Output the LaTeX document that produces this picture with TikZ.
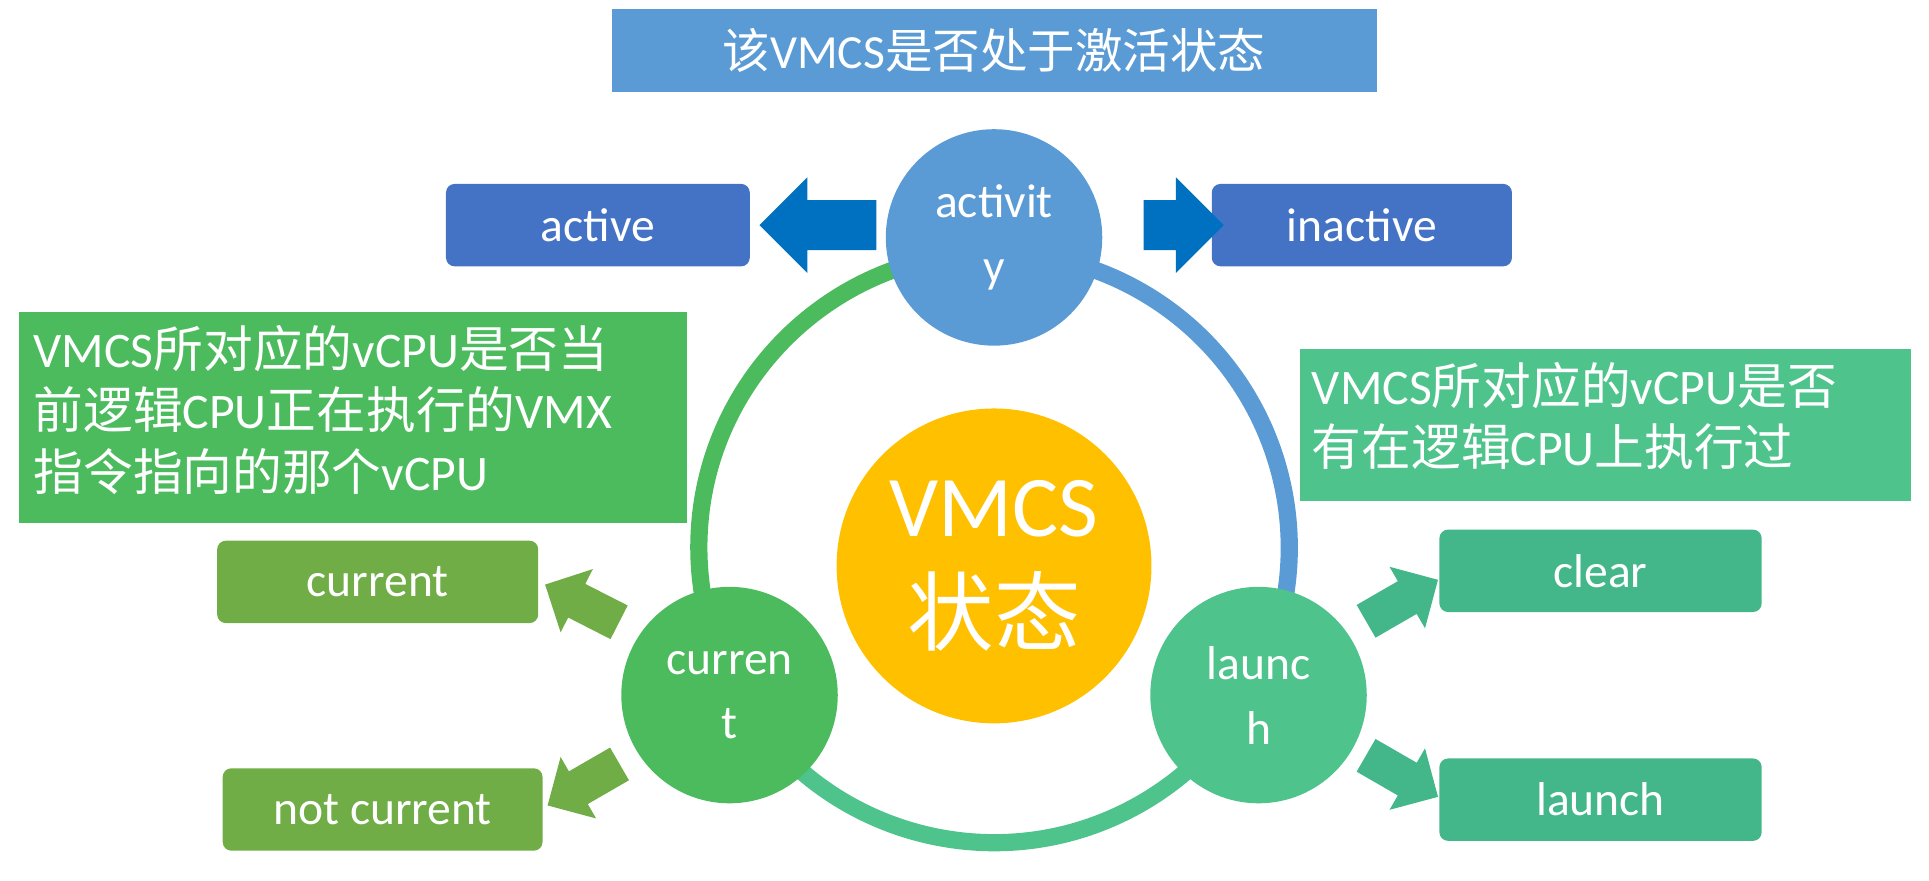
\documentclass[tikz,border=0pt]{standalone}
\usepackage{fontspec}
\setmainfont{Carlito}
\newfontfamily\cjk{Noto Sans CJK SC}
\newcommand{\zh}[1]{{\cjk #1}}
\usetikzlibrary{shapes.arrows}
\definecolor{cblue}{HTML}{5B9BD5}
\definecolor{cdblue}{HTML}{4472C4}
\definecolor{carrow}{HTML}{0070C0}
\definecolor{cgreen}{HTML}{4CBB5E}
\definecolor{cteal}{HTML}{4EC48C}
\definecolor{colive}{HTML}{70AD47}
\definecolor{cgold}{HTML}{FFC000}
\definecolor{cteal2}{HTML}{43B68A}
\begin{document}
\begin{tikzpicture}[x=0.02cm,y=-0.02cm,
  box/.style={rounded corners=4pt,text=white,minimum width=#1,minimum height=1.34cm,font=\fontsize{22}{26}\selectfont},
  circ/.style={circle,fill=#1,minimum size=3.52cm,text=white,align=center,font=\fontsize{22}{30}\selectfont},
  note/.style={text=white,align=left,font=\fontsize{23}{28.5}\selectfont,anchor=north west,inner sep=0pt},
  barrow/.style={single arrow,fill=#1,minimum height=1.9cm,inner xsep=0pt,inner ysep=0.4cm,single arrow head extend=0.37cm,single arrow head indent=0pt},
  sarrow/.style={single arrow,fill=#1,minimum height=1.35cm,inner xsep=0pt,inner ysep=0.3cm,single arrow head extend=0.27cm}]
\useasboundingbox (0,0) rectangle (1568,716);
% banner
\node[fill=cblue,text=white,minimum width=12.44cm,minimum height=1.34cm,font=\fontsize{22}{26}\selectfont] (banner) at (808,41) {\zh{该}VMCS\zh{是否处于激活状态}};
% ring
\coordinate (rc) at (808,445);
\draw[line width=0.28cm,cgreen] (rc) ++(90:4.8cm) arc[start angle=90,end angle=210,radius=4.8cm];
\draw[line width=0.28cm,cteal] (rc) ++(210:4.8cm) arc[start angle=210,end angle=330,radius=4.8cm];
\draw[line width=0.28cm,cblue] (rc) ++(330:4.8cm) arc[start angle=330,end angle=450,radius=4.8cm];
% circles
\node[circ=cblue] (act) at (808,193) {activit\\y};
\node[circ=cgreen] (cur) at (593,565) {curren\\t};
\node[circ=cteal] (lau) at (1023,565) {launc\\h};
\node[circle,fill=cgold,minimum size=5.12cm,text=white,align=center,font=\fontsize{40}{50}\selectfont] (vmcs) at (808,460) {VMCS\\\zh{状态}};
% boxes
\node[box=4.94cm,fill=cdblue] (active) at (486,183) {active};
\node[box=4.88cm,fill=cdblue] (inactive) at (1107,183) {inactive};
\node[box=5.22cm,fill=colive] (curbox) at (307,473) {current};
\node[box=5.2cm,fill=colive] (notcur) at (311,658) {not current};
\node[box=5.24cm,fill=cteal2] (clear) at (1301,464) {clear};
\node[box=5.24cm,fill=cteal2] (launch) at (1301,650) {launch};
% notes
\node[fill=cgreen,minimum width=10.86cm,minimum height=3.44cm,anchor=north west] (n1) at (15,253) {};
\node[note] (n1t) at (27,264) {VMCS\zh{所对应的}vCPU\zh{是否当}\\\zh{前逻辑}CPU\zh{正在执行的}VMX\\\zh{指令指向的那个}vCPU};
\node[fill=cteal,minimum width=9.94cm,minimum height=2.48cm,anchor=north west] (n2) at (1056,283) {};
\node[note] (n2t) at (1066,294) {VMCS\zh{所对应的}vCPU\zh{是否}\\\zh{有在逻辑}CPU\zh{上执行过}};
% arrows
\node[barrow=carrow,shape border rotate=180] (a1) at (675,183) {};
\node[barrow=carrow,minimum height=1.3cm] (a2) at (952,183) {};
\node[sarrow=colive,rotate=153] (a3) at (480,494) {};
\node[sarrow=colive,rotate=210] (a4) at (481,634) {};
\node[sarrow=cteal2,rotate=30] (a5) at (1133,492) {};
\node[sarrow=cteal2,rotate=-30] (a6) at (1133,627) {};
\end{tikzpicture}
\end{document}
